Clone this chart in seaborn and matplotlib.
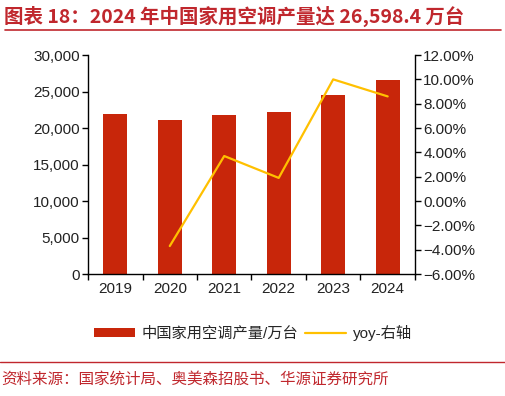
import matplotlib
matplotlib.use("Agg")
import matplotlib.pyplot as plt
import seaborn as sns
import pandas as pd
from matplotlib.lines import Line2D
from matplotlib.patches import Patch
from matplotlib.ticker import FuncFormatter, FixedLocator

years = ["2019", "2020", "2021", "2022", "2023", "2024"]
output = [21866.0, 21064.6, 21835.7, 22247.3, 24487.0, 26598.4]
yoy_years = ["2020", "2021", "2022", "2023", "2024"]
yoy = [-3.7, 3.7, 1.9, 10.0, 8.6]

title = "图表 18：2024 年中国家用空调产量达 26,598.4 万台"
source = "资料来源：国家统计局、奥美森招股书、华源证券研究所"
bar_label = "中国家用空调产量/万台"
line_label = "yoy-右轴"

sns.set_theme(style="white")
plt.rcParams["font.family"] = ["Liberation Sans", "Noto Sans CJK SC", "DejaVu Sans"]

RED_BAR = "#C8260A"
YELLOW = "#FFC000"
TITLE_RED = "#C0272D"
FS = 11

fig = plt.figure(figsize=(5.06, 3.96), dpi=100)
ax = fig.add_axes([0.174, 0.308, 0.646, 0.553])

df = pd.DataFrame({"year": years, "output": output})
sns.barplot(data=df, x="year", y="output", color=RED_BAR, saturation=1,
            width=0.44, ax=ax, edgecolor="none")
ax.set_xlim(-0.5, len(years) - 0.5)
ax.set_ylim(0, 30000)
ax.set_yticks(range(0, 30001, 5000))
ax.yaxis.set_major_formatter(FuncFormatter(lambda v, p: f"{int(v):,}"))
ax.set_xlabel("")
ax.set_ylabel("")

ax2 = ax.twinx()
xpos = [years.index(y) for y in yoy_years]
sns.lineplot(x=xpos, y=yoy, ax=ax2, color=YELLOW, linewidth=1.6)
ax2.set_ylim(-6, 12)
ax2.set_yticks(range(-6, 13, 2))
ax2.yaxis.set_major_formatter(FuncFormatter(lambda v, p: f"{v:.2f}%".replace("-", "\u2212")))
ax2.set_xlim(-0.5, len(years) - 0.5)

# ticks
ax.xaxis.set_minor_locator(FixedLocator([i - 0.5 for i in range(len(years) + 1)]))
ax.tick_params(axis="x", which="major", length=0, labelsize=FS, pad=6, labelcolor="#222222")
ax.tick_params(axis="x", which="minor", length=4, width=1, direction="out", color="black", bottom=True)
ax.tick_params(axis="y", which="major", length=4, width=1, direction="out", labelsize=FS,
               left=True, color="black", labelcolor="#222222", pad=2)
ax2.tick_params(axis="y", which="major", length=4, width=1, direction="out", labelsize=FS,
                right=True, color="black", labelcolor="#222222", pad=2)

for a in (ax, ax2):
    for s in a.spines.values():
        s.set_color("black")
        s.set_linewidth(1)
    a.spines["top"].set_visible(False)
ax.spines["right"].set_visible(False)
ax2.spines["left"].set_visible(False)
ax2.spines["bottom"].set_visible(False)
ax.grid(False)
ax2.grid(False)

# legend
handles = [Patch(facecolor=RED_BAR, edgecolor="none"),
           Line2D([0], [0], color=YELLOW, linewidth=1.6)]
fig.legend(handles, [bar_label, line_label], loc="center", bbox_to_anchor=(0.5, 1 - 333 / 396),
           ncol=2, frameon=False, handlelength=2.7, handleheight=0.6,
           handletextpad=0.45, columnspacing=0.4,
           prop={"family": ["Liberation Sans", "Noto Sans CJK SC"], "size": FS})

# title and source
fig.text(0.008, 1 - 16 / 396, title, ha="left", va="center", fontsize=14, fontweight="bold",
         color=TITLE_RED, family=["Noto Sans CJK SC", "DejaVu Sans"])
fig.add_artist(Line2D([0.01, 0.99], [1 - 30 / 396, 1 - 30 / 396], color=TITLE_RED, linewidth=1.2,
                      transform=fig.transFigure))
fig.add_artist(Line2D([0.0, 1.0], [1 - 362 / 396, 1 - 362 / 396], color=TITLE_RED, linewidth=1.0,
                      transform=fig.transFigure))
fig.text(0.002, 1 - 379 / 396, source, ha="left", va="center", fontsize=11.2,
         color=TITLE_RED, family=["Noto Sans CJK SC", "DejaVu Sans"])

fig.savefig("out.png", dpi=100)
